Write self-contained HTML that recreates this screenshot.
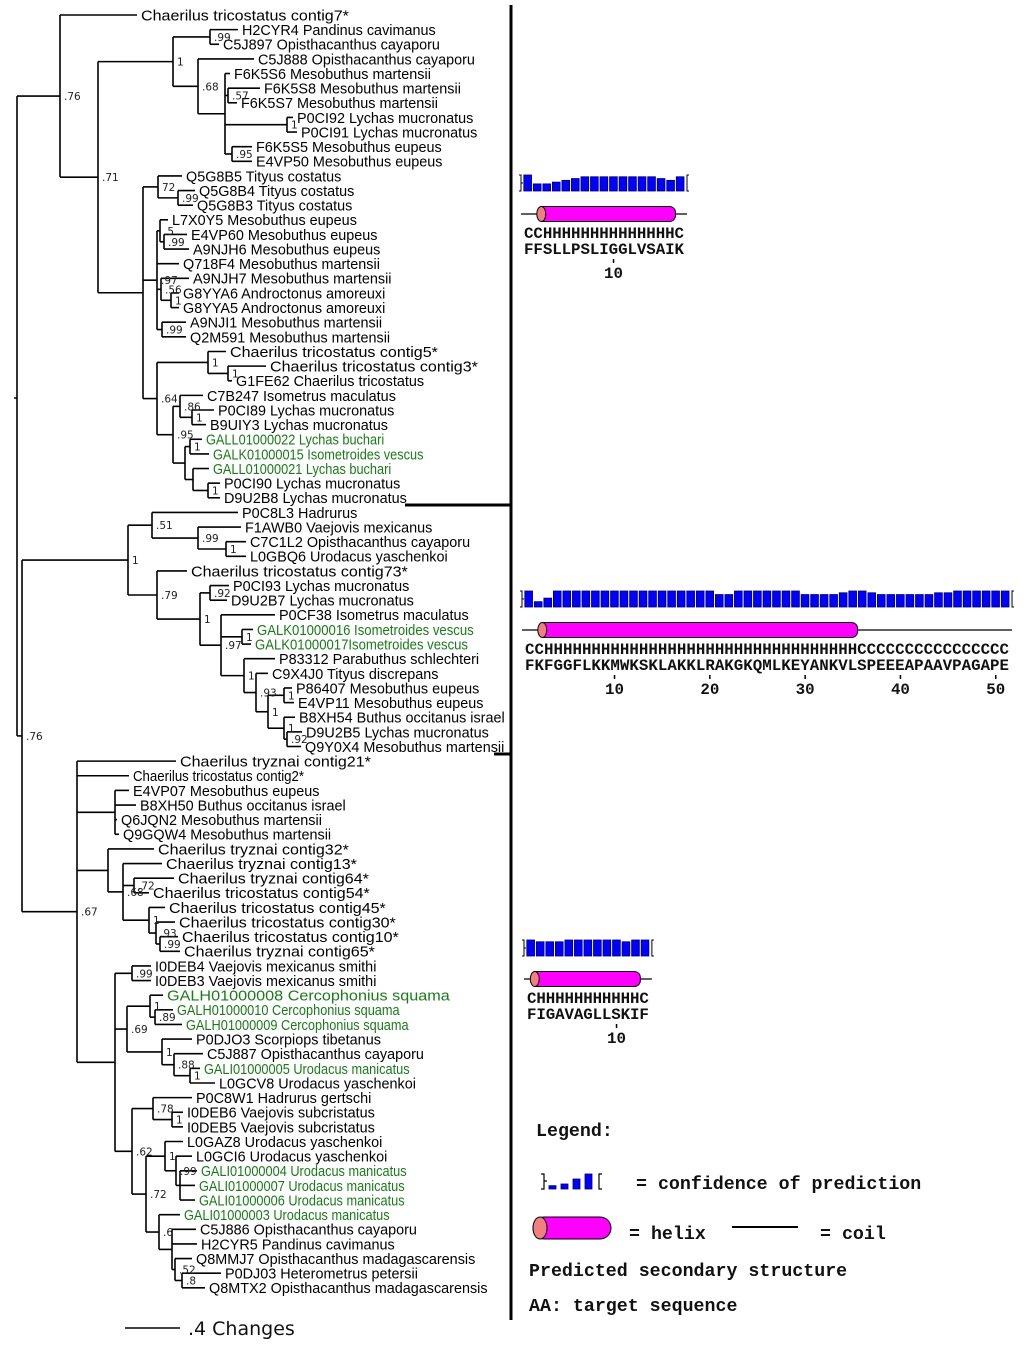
<!DOCTYPE html>
<html><head><meta charset="utf-8">
<style>
html,body{margin:0;padding:0;background:#fff;}
svg{display:block;}
.lf{font-family:"Liberation Sans",sans-serif;font-size:15px;}
.sp{font-family:"DejaVu Sans",sans-serif;font-size:10.5px;fill:#222;}
.mono{font-family:"Liberation Mono",monospace;font-size:15.8px;font-weight:bold;fill:#111;}
.lg{font-family:"Liberation Mono",monospace;font-size:18.3px;font-weight:bold;fill:#111;}
</style></head>
<body>
<svg id="fig" width="1024" height="1347" viewBox="0 0 1024 1347" xmlns="http://www.w3.org/2000/svg">
<g id="tree"></g>
<g id="panels"></g>
<line x1="511" y1="5" x2="511" y2="1320" stroke="#000" stroke-width="3"/>
<line x1="405" y1="505" x2="511" y2="505" stroke="#000" stroke-width="3"/>
<line x1="494" y1="754" x2="511" y2="754" stroke="#000" stroke-width="3"/>
<g>
<line x1="125" y1="1328" x2="180" y2="1328" stroke="#000" stroke-width="1.5"/>
<text x="188" y="1335" font-family="DejaVu Sans, sans-serif" font-size="19" fill="#111">.4 Changes</text>
</g>
<g>
<text class="lg" x="536" y="1136">Legend:</text>
<g id="legicon"></g>
<text class="lg" x="636" y="1189">= confidence of prediction</text>
<rect x="533" y="1217" width="78" height="22" rx="11" fill="#ff00ff" stroke="#000" stroke-width="1"/>
<ellipse cx="540" cy="1228" rx="7" ry="11" fill="#f08080" stroke="#000" stroke-width="1"/>
<text class="lg" x="629" y="1239">= helix</text>
<line x1="732" y1="1227" x2="798" y2="1227" stroke="#000" stroke-width="2"/>
<text class="lg" x="820" y="1239">= coil</text>
<text class="lg" x="529" y="1276">Predicted secondary structure</text>
<text class="lg" x="529" y="1311">AA: target sequence</text>
</g>
</svg>
<script>
const leafNames=["Chaerilus tricostatus contig7*","H2CYR4 Pandinus cavimanus","C5J897 Opisthacanthus cayaporu","C5J888 Opisthacanthus cayaporu","F6K5S6 Mesobuthus martensii","F6K5S8 Mesobuthus martensii","F6K5S7 Mesobuthus martensii","P0CI92 Lychas mucronatus","P0CI91 Lychas mucronatus","F6K5S5 Mesobuthus eupeus","E4VP50 Mesobuthus eupeus","Q5G8B5 Tityus costatus","Q5G8B4 Tityus costatus","Q5G8B3 Tityus costatus","L7X0Y5 Mesobuthus eupeus","E4VP60 Mesobuthus eupeus","A9NJH6 Mesobuthus eupeus","Q718F4 Mesobuthus martensii","A9NJH7 Mesobuthus martensii","G8YYA6 Androctonus amoreuxi","G8YYA5 Androctonus amoreuxi","A9NJI1 Mesobuthus martensii","Q2M591 Mesobuthus martensii","Chaerilus tricostatus contig5*","Chaerilus tricostatus contig3*","G1FE62 Chaerilus tricostatus","C7B247 Isometrus maculatus","P0CI89 Lychas mucronatus","B9UIY3 Lychas mucronatus","GALL01000022 Lychas buchari","GALK01000015 Isometroides vescus","GALL01000021 Lychas buchari","P0CI90 Lychas mucronatus","D9U2B8 Lychas mucronatus","P0C8L3 Hadrurus","F1AWB0 Vaejovis mexicanus","C7C1L2 Opisthacanthus cayaporu","L0GBQ6 Urodacus yaschenkoi","Chaerilus tricostatus contig73*","P0CI93 Lychas mucronatus","D9U2B7 Lychas mucronatus","P0CF38 Isometrus maculatus","GALK01000016 Isometroides vescus","GALK01000017Isometroides vescus","P83312 Parabuthus schlechteri","C9X4J0 Tityus discrepans","P86407 Mesobuthus eupeus","E4VP11 Mesobuthus eupeus","B8XH54 Buthus occitanus israel","D9U2B5 Lychas mucronatus","Q9Y0X4 Mesobuthus martensii","Chaerilus tryznai contig21*","Chaerilus tricostatus contig2*","E4VP07 Mesobuthus eupeus","B8XH50 Buthus occitanus israel","Q6JQN2 Mesobuthus martensii","Q9GQW4 Mesobuthus martensii","Chaerilus tryznai contig32*","Chaerilus tryznai contig13*","Chaerilus tryznai contig64*","Chaerilus tricostatus contig54*","Chaerilus tricostatus contig45*","Chaerilus tricostatus contig30*","Chaerilus tricostatus contig10*","Chaerilus tryznai contig65*","I0DEB4 Vaejovis mexicanus smithi","I0DEB3 Vaejovis mexicanus smithi","GALH01000008 Cercophonius squama","GALH01000010 Cercophonius squama","GALH01000009 Cercophonius squama","P0DJO3 Scorpiops tibetanus","C5J887 Opisthacanthus cayaporu","GALI01000005 Urodacus manicatus","L0GCV8 Urodacus yaschenkoi","P0C8W1 Hadrurus gertschi","I0DEB6 Vaejovis subcristatus","I0DEB5 Vaejovis subcristatus","L0GAZ8 Urodacus yaschenkoi","L0GCI6 Urodacus yaschenkoi","GALI01000004 Urodacus manicatus","GALI01000007 Urodacus manicatus","GALI01000006 Urodacus manicatus","GALI01000003 Urodacus manicatus","C5J886 Opisthacanthus cayaporu","H2CYR5 Pandinus cavimanus","Q8MMJ7 Opisthacanthus madagascarensis","P0DJ03 Heterometrus petersii","Q8MTX2 Opisthacanthus madagascarensis"];
const leafX=[141,242,223,258,234,264,241,297,301,256,256,186,199,197,172,191,193,183,193,183,183,190,190,230,270,236,207,218,210,206,213,213,224,224,242,245,250,250,191,233,231,279,257,255,279,272,296,298,299,306,305,180,133,133,140,121,123,158,166,178,153,169,179,182,184,155,155,167,177,186,196,207,204,219,196,187,187,187,196,201,199,199,184,200,201,196,225,209];
const greenLeaves=[29,30,31,42,43,67,68,69,72,79,80,81,82];
function rowY(i){return 15+14.63*i;}
function L(i){return {leaf:i};}
function N(x,lab,...c){return {x:x,lab:lab,c:c};}
const a1=N(210,'.99',L(1),L(2));
const a2=N(225,'',L(4),N(228,'.57',L(5),L(6)),N(287,'1',L(7),L(8)),N(232,'.95',L(9),L(10)));
const a3=N(198,'.68',L(3),a2);
const A3=N(173,'1',a1,a3);
const tt1=N(158,'72',L(11),N(178,'.99',L(12),L(13)));
const m1=N(160,'.5',L(14),N(164,'.99',L(15),L(16)));
const m2=N(161,'.56',L(18),N(171,'1',L(19),L(20)));
const M=N(157,'.97',m1,L(17),m2,N(162,'.99',L(21),L(22)));
const c1=N(208,'1',L(23),N(228,'1',L(24),L(25)));
const c2=N(180,'.86',L(26),N(192,'1',L(27),L(28)));
const c3=N(185,'',N(190,'1',L(29),L(30)),N(193,'',L(31),N(208,'1',L(32),L(33))));
const C=N(157,'.64',c1,N(173,'.95',c2,c3));
const A4=N(143,'',tt1,M,C);
const A=N(60,'.76',L(0),N(98,'.71',A3,A4));
const b1=N(152,'.51',L(34),N(198,'.99',L(35),N(226,'1',L(36),L(37))));
const b2=N(284,'1',L(48),N(287,'.92',L(49),L(50)));
const b3=N(268,'1',N(284,'1',L(46),L(47)),b2);
const b4=N(244,'1',L(44),N(256,'.93',L(45),b3));
const b5=N(221,'.97',L(41),N(242,'1',L(42),L(43)),b4);
const b6=N(200,'1',N(210,'.92',L(39),L(40)),b5);
const B1=N(128,'1',b1,N(157,'.79',L(38),b6));
const d1=N(149,'1',L(61),N(156,'.93',L(62),N(160,'.99',L(63),L(64))));
const d2=N(108,'',L(57),N(123,'.68',L(58),N(134,'.72',L(59),L(60)),d1));
const e1=N(127,'.69',N(150,'1',L(67),N(155,'.89',L(68),L(69))),N(162,'1',L(70),N(174,'.88',L(71),N(190,'1',L(72),L(73)))));
const f1=N(153,'.78',L(74),N(172,'1',L(75),L(76)));
const f2=N(165,'1',L(77),N(176,'.99',L(78),N(180,'',L(79),L(80),L(81))));
const f3=N(159,'.6',L(82),N(172,'',L(83),L(84),N(175,'.52',L(85),N(182,'.8',L(86),L(87)))));
const F=N(132,'.62',f1,N(146,'.72',f2,f3));
const E=N(115,'',N(132,'.99',L(65),L(66)),e1,F);
const B2=N(77,'.67',L(51),L(52),N(115,'',L(53),L(54),L(55),L(56)),d2,E);
const tree=N(17,'',A,N(22,'.76',B1,B2));

const NS='http://www.w3.org/2000/svg';
const tg=document.getElementById('tree');
function mk(tag,attrs,parent){const e=document.createElementNS(NS,tag);for(const k in attrs)e.setAttribute(k,attrs[k]);parent.appendChild(e);return e;}
function widthFactor(i){
  const nm=leafNames[i];
  if(i===52) return 0.88;
  if(i===67) return 1.08;
  if(greenLeaves.includes(i)) return (i===42||i===43)?0.875:0.85;
  if(nm.indexOf('Chaerilus')===0) return 1.07;
  return 0.96;
}
function layout(n){
  if(n.leaf!==undefined){n.y=rowY(n.leaf);n.x=leafX[n.leaf]-4;return;}
  n.c.forEach(layout);
  n.y=(n.c[0].y+n.c[n.c.length-1].y)/2;
}
layout(tree);
function draw(n){
  if(n.leaf!==undefined){
    const t=mk('text',{x:leafX[n.leaf],y:n.y,dy:'0.36em',class:'lf',fill:greenLeaves.includes(n.leaf)?'#1a7a1a':'#000'},tg);
    t.textContent=leafNames[n.leaf];
    
    
    try{
      const w=t.getComputedTextLength();
      if(w>0){t.setAttribute('textLength',(w*widthFactor(n.leaf)).toFixed(1));t.setAttribute('lengthAdjust','spacingAndGlyphs');}
    }catch(e){}
    return;
  }
  const v=mk('line',{x1:n.x,y1:n.c[0].y,x2:n.x,y2:n.c[n.c.length-1].y,stroke:'#000','stroke-width':1.6},tg);
  
  
  n.c.forEach(function(ch){
    const h=mk('line',{x1:n.x,y1:ch.y,x2:ch.x,y2:ch.y,stroke:'#000','stroke-width':1.6},tg);
    
    
    draw(ch);
  });
  if(n.lab){
    const t=mk('text',{x:n.x+4,y:n.y+4,class:'sp'},tg);
    t.textContent=n.lab;
    
    
  }
}
draw(tree);
mk('line',{x1:14,y1:398,x2:17,y2:398,stroke:'#000','stroke-width':1.5},tg);

const conf1=[9,4,4,5,6,7,8,8,8,8,8,8,8,8,7,6,8];
const ss1="CCHHHHHHHHHHHHHHC";
const aa1="FFSLLPSLIGGLVSAIK";
const conf2=[9,3,5,9,9,9,9,9,9,9,9,9,9,9,9,9,9,9,9,9,7,7,9,9,9,9,9,9,9,7,7,7,7,8,9,9,8,7,7,7,7,7,7,8,8,9,9,9,9,9,9];
const ss2="CCHHHHHHHHHHHHHHHHHHHHHHHHHHHHHHHHHCCCCCCCCCCCCCCCC";
const aa2="FKFGGFLKKMWKSKLAKKLRAKGKQMLKEYANKVLSPEEEAPAAVPAGAPE";
const conf3=[9,8,8,8,9,9,9,9,9,9,8,9,9];
const ss3="CHHHHHHHHHHHC";
const aa3="FIGAVAGLLSKIF";
const legendConf=[2,3,6,9];
const pg=document.getElementById('panels');
const CW=9.53;
function panel(conf,ss,aa,x0,yb,name){
  const g=mk('g',{},pg);
  
  
  const n=aa.length;
  const barBottom=yb+16;
  mk('path',{d:'M'+(x0-4)+' '+yb+' h2 v16 h-2 M'+(x0-2)+' '+(yb+8)+' h2',stroke:'#000',fill:'none','stroke-width':1},g);
  mk('path',{d:'M'+(x0+n*CW+4)+' '+yb+' h-2 v16 h2',stroke:'#000',fill:'none','stroke-width':1},g);
  conf.forEach(function(c,i){
    const h=16*c/9;
    const r=mk('rect',{x:x0+i*CW+0.8,y:barBottom-h,width:CW-1.8,height:h,fill:'#0000ff',stroke:'#000066','stroke-width':0.8},g);
    
    
  });
  const ly=yb+39;
  mk('line',{x1:x0-2,y1:ly,x2:x0+n*CW+2,y2:ly,stroke:'#000','stroke-width':1.3},g);
  const s=ss.indexOf('H'),e=ss.lastIndexOf('H');
  const hx1=x0+s*CW-CW*0.5, hx2=x0+(e+1)*CW;
  const hr=mk('rect',{x:hx1,y:ly-7.5,width:hx2-hx1,height:15,rx:6,fill:'#ff00ff',stroke:'#000','stroke-width':1},g);
  
  
  mk('ellipse',{cx:hx1+4,cy:ly,rx:4.5,ry:7.5,fill:'#f08080',stroke:'#000','stroke-width':1},g);
  const s1=mk('text',{x:x0+1,y:yb+63,class:'mono',textLength:n*CW-2,lengthAdjust:'spacing'},g);
  s1.textContent=ss;
  
  
  const s2=mk('text',{x:x0+1,y:yb+79,class:'mono',textLength:n*CW-2,lengthAdjust:'spacing'},g);
  s2.textContent=aa;
  
  
  for(let k=10;k<=n;k+=10){
    const cx=x0+(k-0.5)*CW;
    mk('line',{x1:cx,y1:yb+84,x2:cx,y2:yb+88,stroke:'#000','stroke-width':1.5},g);
    const tt=mk('text',{x:cx,y:yb+103,class:'mono','text-anchor':'middle'},g);
    tt.textContent=String(k);
    
    
  }
}
panel(conf1,ss1,aa1,523,175,'structure-panel-1');
panel(conf2,ss2,aa2,524,591,'structure-panel-2');
panel(conf3,ss3,aa3,526,940,'structure-panel-3');
const li=document.getElementById('legicon');
mk('path',{d:'M541 1174 h3 v15 h-3 M544 1181 h3',stroke:'#000',fill:'none','stroke-width':1.2},li);
legendConf.forEach(function(c,i){
  const h=15*c/9;
  const r=mk('rect',{x:549+i*12,y:1189-h,width:7,height:h,fill:'#0000ff',stroke:'#000066','stroke-width':0.8},li);
  
  
});
mk('path',{d:'M602 1174 h-3 v15 h3',stroke:'#000',fill:'none','stroke-width':1.2},li);
</script>
</body></html>
